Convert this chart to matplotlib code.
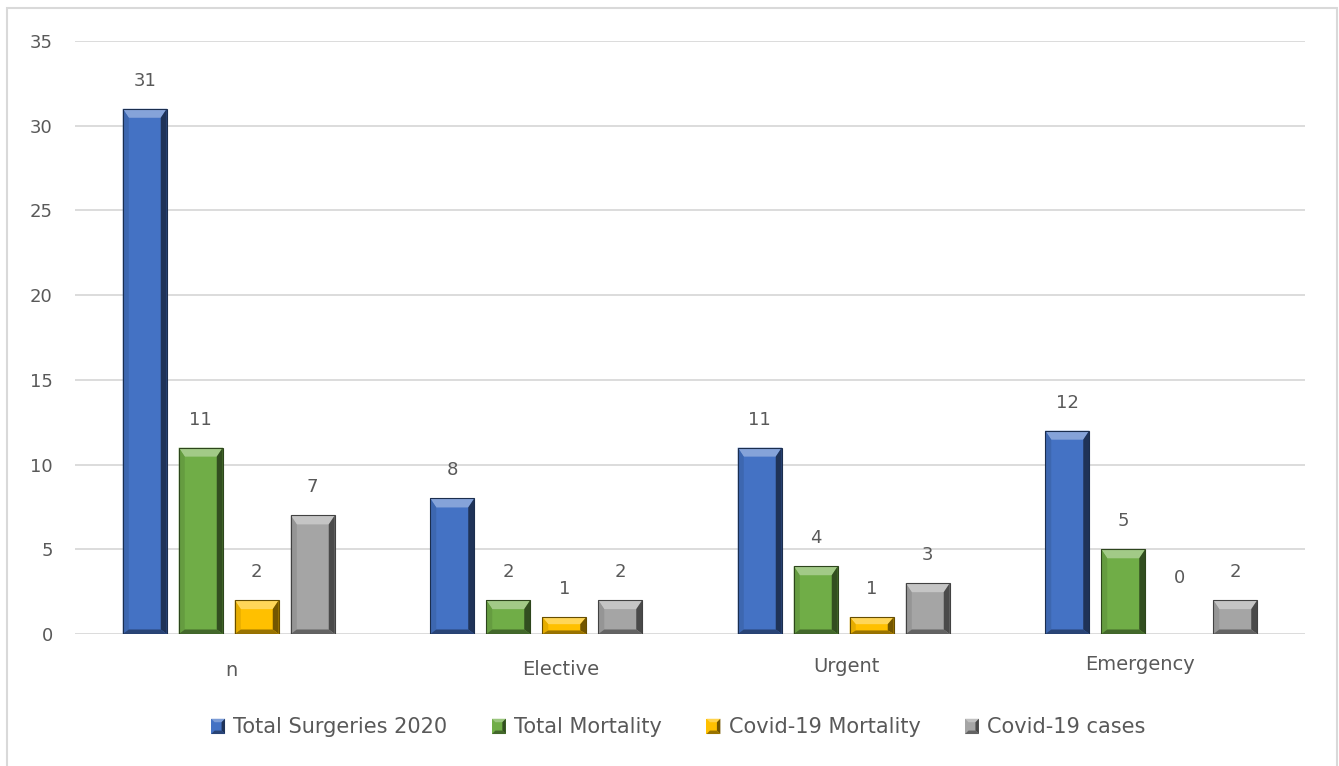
import matplotlib
matplotlib.use("Agg")
import matplotlib.pyplot as plt
from matplotlib.patches import Polygon, Rectangle
from matplotlib.legend_handler import HandlerBase
import matplotlib.transforms as mtransforms
import matplotlib.colors as mcolors
import numpy as np

# ---- data ----
categories = ["n", "Elective", "Urgent", "Emergency"]
series_names = ["Total Surgeries 2020", "Total Mortality", "Covid-19 Mortality", "Covid-19 cases"]
total_surgeries = [31, 8, 11, 12]
total_mortality = [11, 2, 4, 5]
covid_mortality = [2, 1, 1, 0]
covid_cases = [7, 2, 3, 2]
y_ticks = [0, 5, 10, 15, 20, 25, 30, 35]

series_values = [total_surgeries, total_mortality, covid_mortality, covid_cases]
colors = ["#4472C4", "#70AD47", "#FFC000", "#A5A5A5"]

# nudges (pixels, right / up) of the category labels
label_nudge_x = [3, 24, 3, -11]
label_nudge_y = [-1, 0, 3, 5]

W, H, DPI = 1339, 766, 100
fig = plt.figure(figsize=(W / DPI, H / DPI), dpi=DPI, facecolor="white")
ax = fig.add_axes([75 / W, 1 - 634 / H, (1305 - 75) / W, (634 - 41) / H])
ax.set_xlim(-0.5, len(categories) - 0.5)
ax.set_ylim(0, 35)

text_color = "#595959"
font = "DejaVu Sans"


def shade(c, f):
    r, g, b = mcolors.to_rgb(c)
    if f >= 1:
        t = f - 1
        return (r + (1 - r) * t, g + (1 - g) * t, b + (1 - b) * t)
    return (r * f, g * f, b * f)


# data units per pixel
ax_w_px = (1305 - 75)
ax_h_px = (634 - 41)
ux = (ax.get_xlim()[1] - ax.get_xlim()[0]) / ax_w_px
uy = (ax.get_ylim()[1] - ax.get_ylim()[0]) / ax_h_px


def bevel(ax, x0, w, h, color, bx_px=6, by_px=9):
    """Draw a bevelled rectangle from (x0, 0) with width w and height h."""
    if h <= 0:
        return
    bx = bx_px * ux
    by = min(by_px * uy, h * 0.42)
    bxx = min(bx, w * 0.3)
    x1 = x0 + w
    bb = min(by, h) * 0.5
    # main face
    ax.add_patch(Rectangle((x0, 0), w, h, facecolor=color, edgecolor="none", zorder=3))
    # top bevel (light)
    ax.add_patch(Polygon([(x0, h), (x1, h), (x1 - bxx, h - by), (x0 + bxx, h - by)],
                         closed=True, facecolor=shade(color, 1.35), edgecolor="none", zorder=4))
    # left bevel
    ax.add_patch(Polygon([(x0, 0), (x0 + bxx, bb), (x0 + bxx, h - by), (x0, h)],
                         closed=True, facecolor=shade(color, 0.9), edgecolor="none", zorder=4))
    # right bevel (dark)
    ax.add_patch(Polygon([(x1, 0), (x1 - bxx, bb), (x1 - bxx, h - by), (x1, h)],
                         closed=True, facecolor=shade(color, 0.45), edgecolor="none", zorder=4))
    # bottom bevel
    ax.add_patch(Polygon([(x0, 0), (x1, 0), (x1 - bxx, bb), (x0 + bxx, bb)],
                         closed=True, facecolor=shade(color, 0.6), edgecolor="none", zorder=4))
    # thin outline
    ax.add_patch(Rectangle((x0, 0), w, h, facecolor="none", edgecolor=shade(color, 0.4),
                           linewidth=0.8, zorder=5))


n_series = len(series_values)
pitch = 56 / 307.5
bar_w = 44 / 307.5
x = np.arange(len(categories))

for i, (vals, col) in enumerate(zip(series_values, colors)):
    offs = (i - (n_series - 1) / 2) * pitch
    for xi, v in zip(x, vals):
        xc = xi + offs
        bevel(ax, xc - bar_w / 2, bar_w, v, col)
        dy = 28 if v > 0 else 56
        ax.annotate(str(v), (xc, v), xytext=(0, dy * 72 / DPI), textcoords="offset points",
                    ha="center", va="center", fontsize=13, color=text_color,
                    family=font, zorder=6)

# grid and axes styling
ax.set_yticks(y_ticks)
ax.yaxis.grid(True, color="#D9D9D9", linewidth=1.3, zorder=0)
ax.set_axisbelow(True)
for s in ax.spines.values():
    s.set_visible(False)
ax.tick_params(axis="both", length=0, colors=text_color)
ax.tick_params(axis="y", pad=16, labelsize=13)
ax.set_xticks(x)
ax.set_xticklabels(categories, fontsize=14, family=font, color=text_color)
ax.tick_params(axis="x", pad=19)
for lab in ax.get_yticklabels():
    lab.set_family(font)
for lab, nx, ny in zip(ax.get_xticklabels(), label_nudge_x, label_nudge_y):
    lab.set_transform(lab.get_transform() +
                      mtransforms.ScaledTranslation(nx / DPI, ny / DPI, fig.dpi_scale_trans))


# legend with bevelled swatches
class BevelHandler(HandlerBase):
    def __init__(self, color):
        super().__init__()
        self.color = color

    def create_artists(self, legend, orig_handle, xdescent, ydescent, width, height, fontsize, trans):
        w, h = 10, 11
        x0 = xdescent + width - w
        y0 = ydescent + (height - h) / 2 - 0.5
        c = self.color
        arts = [Rectangle((x0, y0), w, h, facecolor=c, edgecolor="none", transform=trans)]
        b = 2.5
        arts.append(Polygon([(x0, y0 + h), (x0 + w, y0 + h), (x0 + w - b, y0 + h - b), (x0 + b, y0 + h - b)],
                            closed=True, facecolor=shade(c, 1.3), edgecolor="none", transform=trans))
        arts.append(Polygon([(x0 + w, y0), (x0 + w, y0 + h), (x0 + w - b, y0 + h - b), (x0 + w - b, y0 + b)],
                            closed=True, facecolor=shade(c, 0.45), edgecolor="none", transform=trans))
        arts.append(Polygon([(x0, y0), (x0 + w, y0), (x0 + w - b, y0 + b), (x0 + b, y0 + b)],
                            closed=True, facecolor=shade(c, 0.6), edgecolor="none", transform=trans))
        return arts


handles = [Rectangle((0, 0), 1, 1) for _ in colors]
handler_map = {h: BevelHandler(c) for h, c in zip(handles, colors)}
leg = fig.legend(handles, series_names, handler_map=handler_map, loc="center",
                 bbox_to_anchor=(677 / W, 1 - 727 / H), ncol=4, frameon=False,
                 prop={"family": font, "size": 15}, labelcolor=text_color,
                 handlelength=0.8, handletextpad=0.4, columnspacing=2.0)

# outer chart border
fig.add_artist(Rectangle((7 / W, -0.02), (1337 - 7) / W, 1 - 8 / H + 0.02,
                         transform=fig.transFigure, facecolor="none",
                         edgecolor="#D9D9D9", linewidth=1.5))

fig.savefig("out.png", dpi=DPI, facecolor="white")
